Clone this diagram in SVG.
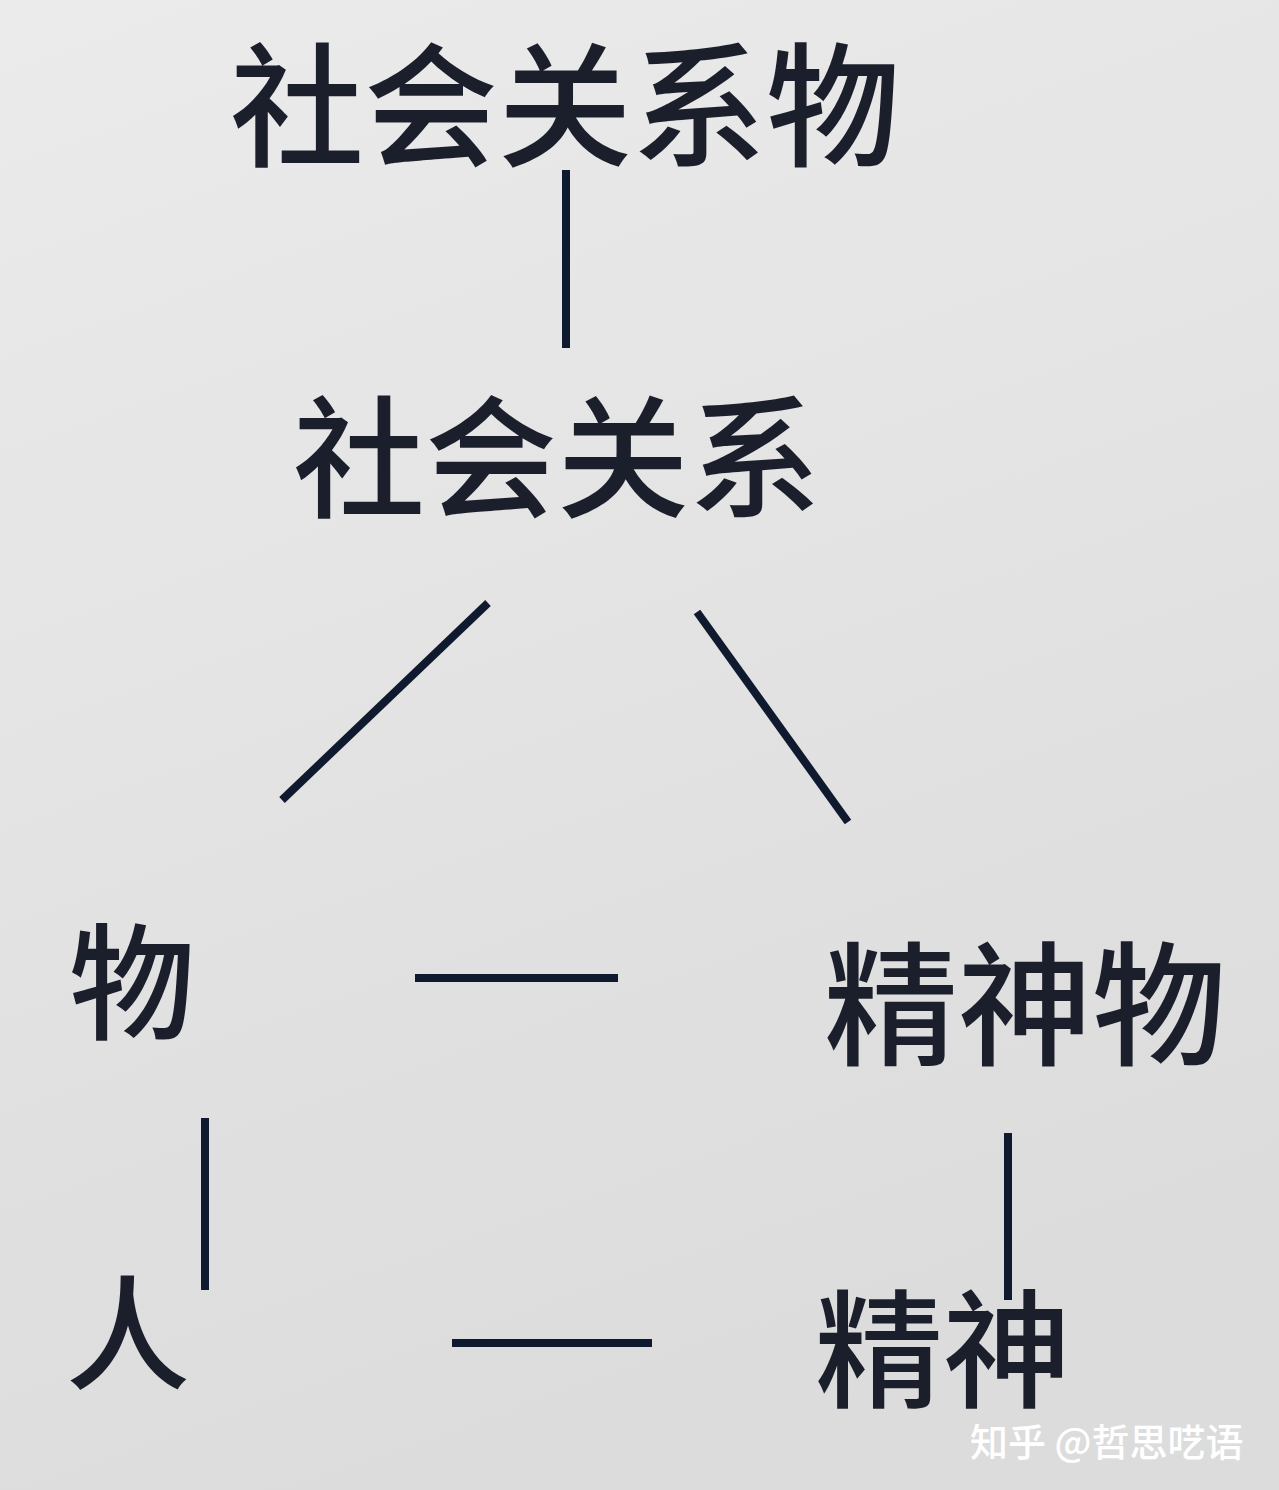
<svg xmlns="http://www.w3.org/2000/svg" width="1279" height="1490" viewBox="0 0 1279 1490">
<defs>
<linearGradient id="bg" x1="0" y1="0" x2="0.3" y2="1">
<stop offset="0" stop-color="#ebebeb"/>
<stop offset="1" stop-color="#dcdcdc"/>
</linearGradient>
</defs>
<style>
.t{font-family:"Noto Sans CJK SC","Noto Sans CJK JP",sans-serif;fill:#1a1f2b;font-weight:500}
.l{stroke:#0f1a2e;stroke-width:8;fill:none}
.w{font-family:"Noto Sans CJK SC",sans-serif;fill:#ffffff;font-size:38px;font-weight:500}
</style>
<rect width="1279" height="1490" fill="url(#bg)"/>
<g id="n1"><text class="t" x="565" y="156" font-size="134" text-anchor="middle">社会关系物</text></g>
<g id="n2"><text class="t" x="557" y="507" font-size="132" text-anchor="middle">社会关系</text></g>
<g id="n3"><text class="t" x="132" y="1030" font-size="126" text-anchor="middle">物</text></g>
<g id="n4"><text class="t" x="1025" y="1055" font-size="134" text-anchor="middle">精神物</text></g>
<g id="n5"><text class="t" x="128" y="1380" font-size="124" text-anchor="middle">人</text></g>
<g id="n6"><text class="t" x="943" y="1398" font-size="128" text-anchor="middle">精神</text></g>
<g id="connectors">
<line class="l" x1="566" y1="170" x2="566" y2="348"/>
<line class="l" x1="488" y1="603" x2="282" y2="800"/>
<line class="l" x1="697" y1="612" x2="848" y2="822"/>
<line class="l" x1="415" y1="978" x2="618" y2="978"/>
<line class="l" x1="205" y1="1118" x2="205" y2="1290"/>
<line class="l" x1="1008" y1="1133" x2="1008" y2="1300"/>
<line class="l" x1="452" y1="1343" x2="652" y2="1343"/>
</g>
<g id="watermark"><text class="w" x="970" y="1456">知乎 @哲思呓语</text></g>
</svg>
